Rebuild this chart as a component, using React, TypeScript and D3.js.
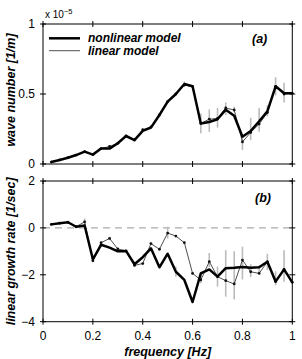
import React from "react";
import * as d3 from "d3";

// frequency [Hz] of each spectral bin
const freq = [0.033, 0.067, 0.1, 0.133, 0.167, 0.2, 0.233, 0.267, 0.3, 0.333,
  0.367, 0.4, 0.433, 0.467, 0.5, 0.533, 0.567, 0.6, 0.633, 0.667,
  0.7, 0.733, 0.767, 0.8, 0.833, 0.867, 0.9, 0.933, 0.967, 1.0];

// wave number, x 1e-5 [1/m]
const waveNonlinear = [0.014, 0.029, 0.045, 0.064, 0.088, 0.067, 0.11, 0.11, 0.148, 0.2,
  0.171, 0.236, 0.26, 0.35, 0.445, 0.5, 0.571, 0.555, 0.29, 0.3,
  0.32, 0.388, 0.345, 0.195, 0.236, 0.305, 0.376, 0.555, 0.505, 0.505];
const waveLinear = [0.014, 0.029, 0.045, 0.064, 0.088, 0.067, 0.11, 0.125, 0.148, 0.2,
  0.171, 0.245, 0.265, 0.35, 0.445, 0.5, 0.564, 0.552, 0.29, 0.32,
  0.325, 0.4, 0.386, 0.158, 0.225, 0.285, 0.367, 0.555, 0.5, 0.505];
// grey bars [lo, hi] on the linear model (null = none)
const waveBars: ([number, number] | null)[] = [null, null, null, null, null, null, null, null, null, null,
  null, null, null, null, null, null, [0.55, 0.59], null, [0.22, 0.36], [0.23, 0.39],
  [0.26, 0.4], [0.35, 0.44], [0.37, 0.41], [0.1, 0.21], [0.17, 0.33], [0.23, 0.4], [0.34, 0.42], [0.49, 0.62], [0.44, 0.58], null];

// linear growth rate [1/sec]
const growthNonlinear = [0.15, 0.2, 0.24, 0.05, 0.1, -1.34, -0.72, -0.84, -1.0, -0.98,
  -1.55, -1.25, -0.87, -1.68, -1.1, -1.87, -2.22, -3.16, -1.94, -1.77,
  -2.08, -1.72, -1.7, -1.67, -1.7, -1.68, -1.44, -2.29, -1.77, -2.32];
const growthLinear = [0.15, 0.2, 0.24, 0.05, 0.26, -1.4, -0.63, -0.45, -0.9, -0.98,
  -1.6, -1.52, -0.67, -0.91, -0.22, -0.35, -0.63, -1.94, -2.22, -1.44,
  -2.08, -2.25, -2.39, -1.37, -1.87, -1.94, -1.45, -2.29, -1.77, -2.32];
const growthBars: ([number, number] | null)[] = [null, null, null, null, [0.1, 0.4], null, null, null, null, null,
  null, null, null, null, [-0.45, 0.05], [-2.08, -1.65], null, null, [-2.36, -1.87], [-1.67, -1.07],
  [-2.5, -1.65], [-2.93, -0.95], [-3.05, -1.0], [-2.2, -0.8], [-2.1, -1.55], [-1.95, -1.6], [-1.8, -1.1], [-2.45, -1.85], [-2.3, -0.95], null];

const xTicks = [0, 0.2, 0.4, 0.6, 0.8, 1];
const xTickLabels = ["0", "0.2", "0.4", "0.6", "0.8", "1"];
const waveTicks = [0, 0.5, 1];
const waveTickLabels = ["0", "0.5", "1"];
const growthTicks = [-4, -2, 0, 2];
const growthTickLabels = ["\u22124", "\u22122", "0", "2"];

const W = 302, H = 359;
const left = 43, right = 292.3;
const font = "'Liberation Sans', Arial, Helvetica, sans-serif";

const x = d3.scaleLinear().domain([0, 1]).range([left, right]);
const yWave = d3.scaleLinear().domain([0, 1]).range([164, 24]);
const yGrowth = d3.scaleLinear().domain([-4, 2]).range([321.7, 181]);

function Panel({ y, nl, lin, bars, yticks, ylabels, showX }: any) {
  const [y0, y1] = y.range();
  const line = d3.line<number>().x((_, i) => x(freq[i])).y(d => y(d));
  return (
    <g>
      {bars.map((b: any, i: number) => b && (
        <line key={"b" + i} x1={x(freq[i])} x2={x(freq[i])} y1={y(b[0])} y2={y(b[1])}
          stroke="#bbb" strokeWidth={1.6} />
      ))}
      <path d={line(lin) || ""} fill="none" stroke="#222" strokeWidth={0.8} />
      {lin.map((d: number, i: number) => (
        <circle key={"c" + i} cx={x(freq[i])} cy={y(d)} r={1.4} fill="#111" />
      ))}
      <path d={line(nl) || ""} fill="none" stroke="#000" strokeWidth={2.5} strokeLinejoin="round" />
      <rect x={left} y={y1} width={right - left} height={y0 - y1} fill="none" stroke="#000" strokeWidth={1} />
      {xTicks.map((t, i) => (
        <g key={"x" + i}>
          <line x1={x(t)} x2={x(t)} y1={y0 - 3} y2={y0 + 3} stroke="#000" />
          <line x1={x(t)} x2={x(t)} y1={y1 - 3} y2={y1 + 3} stroke="#000" />
          {showX && (
            <text x={x(t)} y={y0 + 18} textAnchor="middle" fontSize={12} fontFamily={font}>{xTickLabels[i]}</text>
          )}
        </g>
      ))}
      {yticks.map((t: number, i: number) => (
        <g key={"y" + i}>
          <line x1={left - 3} x2={left + 3} y1={y(t)} y2={y(t)} stroke="#000" />
          <line x1={right - 3} x2={right + 3} y1={y(t)} y2={y(t)} stroke="#000" />
          <text x={left - 8} y={y(t) + 4.3} textAnchor="end" fontSize={12} fontFamily={font}>{ylabels[i]}</text>
        </g>
      ))}
    </g>
  );
}

export default function App() {
  return (
    <svg width={W} height={H} style={{ position: "absolute", left: 0, top: 0, background: "#fff" }}>
      <rect width={W} height={H} fill="#fff" />
      <line x1={left} x2={right} y1={yGrowth(0)} y2={yGrowth(0)} stroke="#aaa" strokeWidth={1.2} strokeDasharray="7,5" />
      <Panel y={yWave} nl={waveNonlinear} lin={waveLinear} bars={waveBars}
        yticks={waveTicks} ylabels={waveTickLabels} showX={false} />
      <Panel y={yGrowth} nl={growthNonlinear} lin={growthLinear} bars={growthBars}
        yticks={growthTicks} ylabels={growthTickLabels} showX={true} />

      {/* exponent */}
      <text x={45} y={18} fontSize={10} fontFamily={font}>x 10<tspan dy={-4} fontSize={7.5}>{"\u22125"}</tspan></text>

      {/* legend */}
      <line x1={49} x2={80} y1={38.3} y2={38.3} stroke="#000" strokeWidth={2.5} />
      <line x1={49} x2={80} y1={50.7} y2={50.7} stroke="#222" strokeWidth={0.8} />
      <text x={88} y={42.2} fontSize={12} fontWeight="bold" fontStyle="italic" fontFamily={font}>nonlinear model</text>
      <text x={88} y={55.2} fontSize={12} fontWeight="bold" fontStyle="italic" fontFamily={font}>linear model</text>
      <text x={252} y={42.6} fontSize={12.5} fontWeight="bold" fontStyle="italic" fontFamily={font}>(a)</text>
      <text x={255} y={201.5} fontSize={12.5} fontWeight="bold" fontStyle="italic" fontFamily={font}>(b)</text>

      {/* axis titles */}
      <text transform={`translate(14.5,${(164 + 24) / 2 - 4}) rotate(-90)`} textAnchor="middle" fontSize={12.5}
        fontWeight="bold" fontStyle="italic" fontFamily={font}>wave number [1/m]</text>
      <text transform={`translate(14.5,${(321.7 + 181) / 2}) rotate(-90)`} textAnchor="middle" fontSize={12.5}
        fontWeight="bold" fontStyle="italic" fontFamily={font}>linear growth rate [1/sec]</text>
      <text x={(left + right) / 2} y={356} textAnchor="middle" fontSize={12.5}
        fontWeight="bold" fontStyle="italic" fontFamily={font}>frequency [Hz]</text>
    </svg>
  );
}
